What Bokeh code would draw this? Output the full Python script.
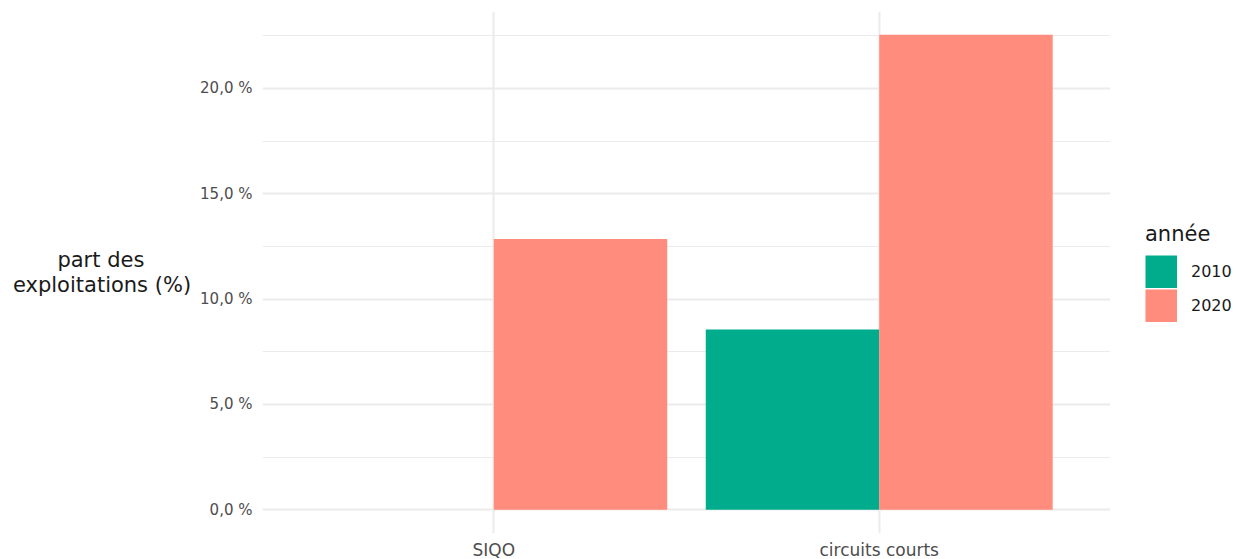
from bokeh.plotting import figure
from bokeh.models import FactorRange, Range1d, FixedTicker, Legend, LegendItem, ColumnDataSource
from bokeh.transform import dodge
from bokeh.embed import file_html
from bokeh.resources import INLINE

categories = ["SIQO", "circuits courts"]
years = ["2010", "2020"]
v2010 = [float("nan"), 8.55]
v2020 = [12.85, 22.55]
yticks = [0, 5, 10, 15, 20]
ytick_labels = ["0,0 %", "5,0 %", "10,0 %", "15,0 %", "20,0 %"]
minor_ticks = [2.5, 7.5, 12.5, 17.5, 22.5]
colors = ["#00AC8C", "#FF8C7C"]

FONT = "DejaVu Sans"

src = ColumnDataSource(dict(cat=categories, y2010=v2010, y2020=v2020))

p = figure(frame_width=848, frame_height=522, output_backend="svg", toolbar_location=None,
           x_range=FactorRange(*categories, range_padding=0.1, range_padding_units="absolute"),
           y_range=Range1d(-1.13, 23.65))
p.min_border_left = 262
p.min_border_right = 0
p.min_border_top = 11
p.min_border_bottom = 20
p.outline_line_color = None
p.background_fill_color = "white"
p.border_fill_color = "white"

p.vbar(x=dodge("cat", -0.225, range=p.x_range), top="y2010", width=0.45, source=src,
       fill_color=colors[0], line_color=None)
p.vbar(x=dodge("cat", 0.225, range=p.x_range), top="y2020", width=0.45, source=src,
       fill_color=colors[1], line_color=None)

# legend swatch renderers: a single undefined (NaN) point, so nothing is drawn in the plot area
k1 = p.line(x=[categories[0]], y=[float("nan")], line_color=colors[0], line_width=33, line_cap="butt")
k2 = p.line(x=[categories[0]], y=[float("nan")], line_color=colors[1], line_width=33, line_cap="butt")

p.yaxis.ticker = FixedTicker(ticks=yticks, minor_ticks=minor_ticks)
p.yaxis.major_label_overrides = {t: l for t, l in zip(yticks, ytick_labels)}
for ax in (p.xaxis[0], p.yaxis[0]):
    ax.axis_line_color = None
    ax.major_tick_line_color = None
    ax.minor_tick_line_color = None
    ax.major_label_text_font = FONT
    ax.major_label_text_color = "#4D4D4D"
p.yaxis.major_label_text_font_size = "15px"
p.xaxis.major_label_text_font_size = "17px"
p.yaxis.major_label_standoff = 4
p.xaxis.major_label_standoff = 0

p.yaxis.axis_label = "part des" + "\u00a0" * 7 + "\nexploitations (%)"
p.yaxis.axis_label_orientation = "horizontal"
p.yaxis.axis_label_text_font = FONT
p.yaxis.axis_label_text_font_size = "21px"
p.yaxis.axis_label_text_font_style = "normal"
p.yaxis.axis_label_text_color = "#1A1A1A"
p.yaxis.axis_label_standoff = 6
p.yaxis.axis_label_text_line_height = 1.05

p.ygrid.grid_line_color = "#EBEBEB"
p.ygrid.grid_line_width = 2
p.ygrid.minor_grid_line_color = "#EBEBEB"
p.ygrid.minor_grid_line_width = 1
p.xgrid.grid_line_color = "#EBEBEB"
p.xgrid.grid_line_width = 2

legend = Legend(items=[LegendItem(label=years[0], renderers=[k1]),
                       LegendItem(label=years[1], renderers=[k2])],
                title="année", title_text_font=FONT, title_text_font_size="21px",
                title_text_font_style="normal",
                title_text_color="#1A1A1A", title_standoff=9,
                label_text_font=FONT, label_text_font_size="16px", label_text_color="#1A1A1A",
                glyph_width=32, glyph_height=33, spacing=1, label_standoff=14,
                border_line_color=None, background_fill_alpha=0, padding=0, margin=35,
                location="center_left")
p.add_layout(legend, "right")

open("out.html", "w").write(file_html(p, INLINE))
